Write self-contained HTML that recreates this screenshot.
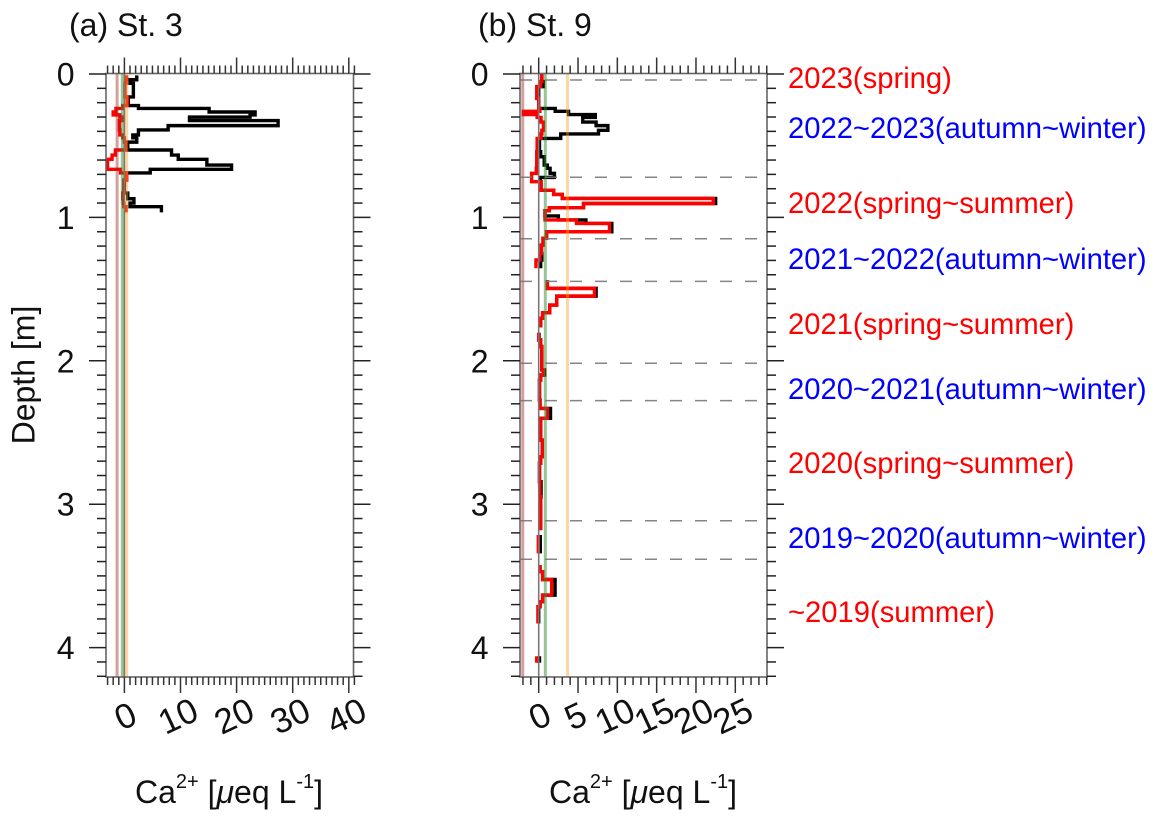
<!DOCTYPE html>
<html lang="en">
<head>
<meta charset="utf-8">
<title>Ca2+ depth profiles</title>
<style>
html,body{margin:0;padding:0;background:#fff;}
svg{display:block;font-family:"Liberation Sans",sans-serif;}
</style>
</head>
<body>
<svg id="chart" width="1157" height="823" viewBox="0 0 1157 823" xmlns="http://www.w3.org/2000/svg">
  <rect x="0" y="0" width="1157" height="823" fill="#fff"/>
  <text x="69" y="36" font-size="32" fill="#111">(a) St. 3</text>
  <text x="478" y="36" font-size="32" fill="#111">(b) St. 9</text>
  <text transform="translate(34.5,375) rotate(-90)" text-anchor="middle" font-size="32" fill="#111">Depth [m]</text>
  <text x="135" y="803" font-size="32" fill="#111">Ca<tspan font-size="20" dy="-15">2+</tspan><tspan dy="15"> [</tspan><tspan font-style="italic">μ</tspan>eq L<tspan font-size="20" dy="-15">-1</tspan><tspan dy="15">]</tspan></text>
  <text x="549" y="803" font-size="32" fill="#111">Ca<tspan font-size="20" dy="-15">2+</tspan><tspan dy="15"> [</tspan><tspan font-style="italic">μ</tspan>eq L<tspan font-size="20" dy="-15">-1</tspan><tspan dy="15">]</tspan></text>
  <g font-size="29.2">
    <text x="788" y="88" fill="#ff0000">2023(spring)</text>
    <text x="788" y="138" fill="#0000ff">2022~2023(autumn~winter)</text>
    <text x="788" y="213" fill="#ff0000">2022(spring~summer)</text>
    <text x="788" y="269" fill="#0000ff">2021~2022(autumn~winter)</text>
    <text x="788" y="334" fill="#ff0000">2021(spring~summer)</text>
    <text x="788" y="399" fill="#0000ff">2020~2021(autumn~winter)</text>
    <text x="788" y="473" fill="#ff0000">2020(spring~summer)</text>
    <text x="788" y="548" fill="#0000ff">2019~2020(autumn~winter)</text>
    <text x="788" y="622" fill="#ff0000">~2019(summer)</text>
  </g>
</svg>
<script>
// Depth axis
const depthTickLabels = [0, 1, 2, 3, 4];
const depthMinorTicks = [0, 0.1, 0.2, 0.3, 0.4, 0.5, 0.6, 0.7, 0.8, 0.9, 1, 1.1, 1.2, 1.3, 1.4, 1.5, 1.6, 1.7, 1.8, 1.9, 2, 2.1, 2.2, 2.3, 2.4, 2.5, 2.6, 2.7, 2.8, 2.9, 3, 3.1, 3.2, 3.3, 3.4, 3.5, 3.6, 3.7, 3.8, 3.9, 4, 4.1, 4.2];

// Panel (a) St. 3
const xTickLabelsA = [0, 10, 20, 30, 40];
const depthEdgesA = [0.01, 0.04, 0.065, 0.16, 0.22, 0.24, 0.265, 0.285, 0.30, 0.325, 0.36, 0.39, 0.425, 0.445, 0.475, 0.53, 0.565, 0.595, 0.635, 0.665, 0.69, 0.74, 0.83, 0.87, 0.90, 0.925, 0.965];
const blackValuesA = [2.2, 1.0, 1.6, 0.7, 2.5, 15.1, 23.3, 22.4, 11.6, 27.4, 7.8, 2.5, 1.5, 2.2, 0.6, 8.4, 9.6, 14.7, 19.1, 4.6, 0.4, 0.0, 0.6, 1.7, 1.0, 6.6];
const redValuesA = [0.4, 0.3, 0.1, 0.5, -0.3, -1.5, -2.0, -0.8, -0.4, -0.9, -0.9, -0.8, -0.3, 0.0, 0.2, -1.6, -2.2, -3.0, -3.0, -0.7, 0.4, -0.1, -0.3, -0.2, -0.1, 0.3];
const referenceValuesA = [-1.3, -0.37, 0, 0.41];

// Panel (b) St. 9
const xTickLabelsB = [0, 5, 10, 15, 20, 25];
const depthEdgesB = [0.0, 0.053, 0.088, 0.088, 0.17, 0.24, 0.26, 0.283, 0.30, 0.303, 0.335, 0.36, 0.393, 0.418, 0.449, 0.542, 0.577, 0.635, 0.658, 0.693, 0.721, 0.751, 0.81, 0.84, 0.868, 0.903, 0.932, 0.953, 0.990, 1.018, 1.042, 1.10, 1.146, 1.193, 1.251, 1.297, 1.355, 1.437, 1.495, 1.549, 1.611, 1.665, 1.704, 1.767, 1.804, 1.855, 1.901, 2.064, 2.099, 2.134, 2.274, 2.332, 2.401, 2.553, 2.669, 2.715, 2.843, 2.948, 3.181, 3.215, 3.343, 3.425, 3.471, 3.525, 3.634, 3.681, 3.715, 3.832, 4.06, 4.106];
const blackValuesB = [0.4, 0.6, 0.0, 0.0, 0.0, 2.1, 3.8, 7.2, 7.2, 5.6, 7.3, 8.8, 7.6, 2.8, 0.1, 0.25, 0.7, 1.1, 1.45, 2.0, 0.2, 0.3, 1.9, 3.0, 22.5, 5.7, 1.35, 0.8, 2.5, 6.0, 9.3, 1.0, 0.55, 0.35, 0.4, 0.25, null, 1.1, 7.3, 2.3, 1.4, 0.5, 0.25, null, 0.05, 0.25, 0.4, 0.75, 0.25, 0.1, 0.17, 1.5, 0.25, 0.45, 0.25, 0.1, 0.3, 0.25, null, 0.2, null, 0.17, 0.5, 2.08, 0.5, 0.17, 0.0, null, 0.1];
const redValuesB = [0.4, 0.25, -0.25, -0.25, 0.0, 0.15, -1.95, -0.2, -0.2, 0.3, 0.6, 0.6, 0.4, 0.3, -0.2, -0.25, -0.25, -0.25, -0.3, -0.9, -0.9, 0.3, 1.9, 3.0, 22.2, 5.7, 1.35, 0.8, 0.8, 4.8, 9.0, 1.0, 0.55, 0.35, 0.15, -0.35, null, 1.1, 7.1, 2.3, 1.4, 0.5, 0.25, null, 0.0, 0.25, 0.4, 0.6, 0.25, 0.1, 0.17, 1.1, 0.25, 0.45, 0.25, 0.1, 0.15, 0.25, null, -0.05, null, 0.17, 0.5, 1.65, 0.5, 0.17, -0.1, null, -0.25];
const referenceValuesB = [-2.03, 0, 0.84, 3.66];
const seasonBoundaryDepths = [0.042, 0.72, 1.149, 1.446, 2.017, 2.278, 3.115, 3.384];

const svgNS = 'http://www.w3.org/2000/svg';
const chart = document.getElementById('chart');
const depthTop = 74, pxPerMeter = 143.4, boxTop = 73.5, boxBottom = 677;

function yScale(d) { return depthTop + d * pxPerMeter; }
function xScaleA(v) { return 124.4 + v * 5.61; }
function xScaleB(v) { return 538.7 + v * 7.864; }

function add(parent, tag, attrs) {
  const el = document.createElementNS(svgNS, tag);
  for (const k in attrs) el.setAttribute(k, attrs[k]);
  parent.appendChild(el);
  return el;
}

function stepPath(edges, values, xs) {
  let d = '', pen = false;
  for (let i = 0; i < values.length; i++) {
    if (values[i] === null) { pen = false; continue; }
    const x = xs(values[i]).toFixed(2);
    d += (pen ? 'L' : 'M') + x + ' ' + yScale(edges[i]).toFixed(2) + 'L' + x + ' ' + yScale(edges[i + 1]).toFixed(2);
    pen = true;
  }
  return d;
}

function drawPanel(key, left, right, xs, xLabels, edges, black, red, refs, refColors, labelY, firstTick, lastTick, depthLabelX) {
  const g = add(chart, 'g', {});
  
  

  const blackLine = add(g, 'path', { d: stepPath(edges, black, xs), fill: 'none', stroke: '#000', 'stroke-width': 3.4, 'stroke-linejoin': 'miter' });
  
  

  const redLine = add(g, 'path', { d: stepPath(edges, red, xs), fill: 'none', stroke: '#ff0000', 'stroke-width': 3.4, 'stroke-linejoin': 'miter' });
  
  

  refs.forEach(function (v, i) {
    const line = add(g, 'line', { x1: xs(v), x2: xs(v), y1: boxTop, y2: boxBottom, stroke: refColors[i].c, 'stroke-width': refColors[i].w, 'stroke-opacity': refColors[i].o });
    
    
  });

  const box = add(g, 'rect', { x: left, y: boxTop, width: right - left, height: boxBottom - boxTop, fill: 'none', stroke: '#666', 'stroke-width': 1.6 });
  
  

  // depth ticks (both sides)
  depthMinorTicks.forEach(function (d) {
    const y = yScale(d);
    const major = depthTickLabels.indexOf(d) >= 0;
    const len = major ? 17 : 9;
    const lt = add(g, 'line', { x1: left - len, x2: left, y1: y, y2: y, stroke: '#222', 'stroke-width': 1.5 });
    
    
    const rt = add(g, 'line', { x1: right, x2: right + len, y1: y, y2: y, stroke: '#222', 'stroke-width': 1.5 });
    
    
  });

  depthTickLabels.forEach(function (d) {
    const t = add(g, 'text', { x: depthLabelX, y: yScale(d) + 11.5, 'text-anchor': 'end', 'font-size': 32, fill: '#111' });
    t.textContent = d;
    
    
  });

  // value ticks (top and bottom)
  for (let v = firstTick; v <= lastTick; v++) {
    const x = xs(v);
    const major = xLabels.indexOf(v) >= 0;
    const len = major ? 16 : 8;
    const bt = add(g, 'line', { x1: x, x2: x, y1: boxBottom, y2: boxBottom + len, stroke: '#333', 'stroke-width': 1.5 });
    
    
    const tt = add(g, 'line', { x1: x, x2: x, y1: boxTop - len, y2: boxTop, stroke: '#333', 'stroke-width': 1.5 });
    
    
  }

  xLabels.forEach(function (v) {
    const x = xs(v) - (v === 0 ? -1 : 2.5);
    const t = add(g, 'text', { 'text-anchor': 'middle', 'font-size': 35, fill: '#111', transform: 'translate(' + x + ',' + labelY + ') rotate(-25)', x: 0, y: 12 });
    t.textContent = v;
    
    
  });
}

const refStylesA = [
  { c: '#a52a2a', w: 3, o: 0.45 },
  { c: '#2e8b2e', w: 3, o: 0.5 },
  { c: '#777777', w: 1.6, o: 1 },
  { c: '#ff9a1f', w: 3, o: 0.42 }
];
const refStylesB = [
  { c: '#a52a2a', w: 3, o: 0.45 },
  { c: '#777777', w: 1.6, o: 1 },
  { c: '#2e8b2e', w: 3, o: 0.5 },
  { c: '#ff9a1f', w: 3, o: 0.42 }
];

drawPanel('a', 106, 353.5, xScaleA, xTickLabelsA, depthEdgesA, blackValuesA, redValuesA, referenceValuesA, refStylesA, 716, -3, 41, 74.5);
drawPanel('b', 520, 767, xScaleB, xTickLabelsB, depthEdgesB, blackValuesB, redValuesB, referenceValuesB, refStylesB, 716, -2, 29, 488.5);

seasonBoundaryDepths.forEach(function (d) {
  const line = add(chart, 'line', { x1: 520, x2: 767, y1: yScale(d), y2: yScale(d), stroke: '#777', 'stroke-width': 1.5, 'stroke-dasharray': '12 13', 'stroke-opacity': 0.9 });
  
  
});
</script>
</body>
</html>
